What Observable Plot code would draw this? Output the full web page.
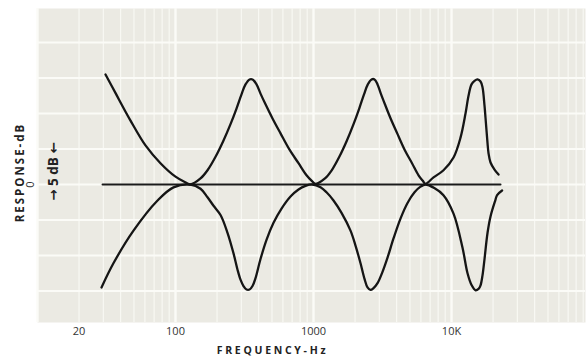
<!DOCTYPE html>
<html>
<head>
<meta charset="utf-8">
<script src="https://cdn.jsdelivr.net/npm/d3@7"></script>
<script src="https://cdn.jsdelivr.net/npm/@observablehq/plot@0.6"></script>
<style>
  html, body { margin: 0; padding: 0; background: #ffffff; }
  #chart { width: 587px; height: 361px; }
</style>
</head>
<body>
<div id="chart"></div>
<script>
// ---- Data ----
const upperFreq = [31.1, 36.7, 47.2, 60.6, 77.8, 100, 118, 128,
  151.8, 170.6, 195.0, 222.8, 250.4, 276.7, 300.8, 321.6, 343.8, 361.4, 386.4, 413.0, 449.0, 504.6, 576.8, 670.1, 778.6, 889.8, 967.2, 1034,
  1211, 1355, 1538, 1746, 1950, 2144, 2322, 2475, 2633, 2767, 2910, 3074, 3292, 3620, 4042, 4571, 5173, 5768, 6174, 6480,
  7407, 8750, 10340, 11620, 12630, 13280, 13960, 14678, 15433, 16230, 16770, 17340, 17630, 18240, 18540, 19170, 20490, 21910];
const upperDb = [15.5, 12.9, 9.0, 5.5, 3.0, 1.1, 0.3, 0.0,
  0.85, 2.0, 3.9, 6.2, 8.5, 10.7, 12.7, 14.1, 14.8, 14.8, 14.1, 12.8, 11.3, 9.3, 7.2, 4.9, 3.0, 1.3, 0.55, 0.1,
  0.85, 2.0, 3.9, 6.2, 8.5, 10.7, 12.7, 14.1, 14.8, 14.8, 14.1, 12.8, 11.3, 9.3, 7.2, 4.9, 3.0, 1.3, 0.55, 0.1,
  1.0, 2.0, 3.8, 6.6, 10.0, 12.5, 14.1, 14.6, 14.8, 14.5, 13.7, 11.1, 9.4, 5.8, 4.4, 3.1, 2.1, 1.4];

const lowerFreq = [29.1, 35.5, 49.6, 74.1, 96.7, 128,
  151.8, 170.6, 188.6, 211.9, 238.1, 263.2, 281.4, 295.8, 311.0, 327.0, 343.8, 361.4, 380.0, 413.0, 456.5, 513.1, 586.5, 681.3, 778.6, 875.0, 983.5,
  1124, 1242, 1396, 1596, 1854, 2015, 2191, 2342, 2462, 2588, 2722, 2910, 3162, 3438, 3799, 4268, 4800, 5394, 5963, 6480,
  7500, 8742, 10340, 12015, 13060, 14000, 14940, 15700, 16230, 16770, 17340, 18240, 19170, 20710, 21400, 23250];
const lowerDb = [-14.5, -11.1, -6.5, -2.25, -0.4, 0,
  -0.6, -1.8, -3.0, -4.3, -6.8, -9.7, -12.0, -13.4, -14.3, -14.8, -14.8, -14.3, -13.2, -10.5, -7.8, -5.4, -3.4, -1.7, -0.7, -0.2, 0,
  -0.4, -1.1, -2.25, -4.0, -6.5, -8.6, -11.1, -13.3, -14.5, -14.85, -14.6, -13.9, -12.3, -10.3, -7.6, -4.8, -2.6, -1.1, -0.3, 0,
  -0.5, -1.5, -4.1, -8.9, -12.5, -14.2, -14.9, -14.7, -14.2, -12.8, -10.5, -6.8, -4.5, -2.3, -1.5, -0.85];

const flatFreq = [29.6, 22650];
const flatDb = [0, 0];

const tickValues = [20, 100, 1000, 10000];
const tickLabels = ["20", "100", "1000", "10K"];

// graph-paper grid
const gridDb = [-15, -10, -5, 0, 5, 10, 15, 20];
const gridDecades = [10, 100, 1000, 10000];
const gridMinor = [20,30,40,50,60,70,80,90, 200,300,400,500,600,700,800,900, 2000,3000,4000,5000,6000,7000,8000,9000, 20000,30000,40000,50000,60000,70000,80000,90000];

const upper = upperFreq.map((f, i) => ({f, db: upperDb[i]}));
const lower = lowerFreq.map((f, i) => ({f, db: lowerDb[i]}));
const flat = flatFreq.map((f, i) => ({f, db: flatDb[i]}));
const ticks = tickValues.map((v, i) => ({v, label: tickLabels[i]}));

const font = "'Open Sans', 'DejaVu Sans', sans-serif";

const svg = Plot.plot({
  width: 587,
  height: 361,
  marginLeft: 37,
  marginRight: 2,
  marginTop: 8,
  marginBottom: 39,
  style: {fontFamily: font, background: "#ffffff", color: "#222"},
  x: {type: "log", domain: [10, 93500], axis: null},
  y: {domain: [-19.44, 24.79], axis: null},
  marks: [
    Plot.frame({fill: "#ebeae3", stroke: null}),
    Plot.ruleX(gridMinor, {stroke: "#f8f8f3", strokeWidth: 1.2}),
    Plot.ruleX(gridDecades, {stroke: "#fbfbf7", strokeWidth: 2.4}),
    Plot.ruleY(gridDb, {stroke: "#fbfbf7", strokeWidth: 2.2}),
    Plot.line(flat, {x: "f", y: "db", stroke: "#1a1a1a", strokeWidth: 2}),
    Plot.line(upper, {x: "f", y: "db", curve: "catmull-rom", stroke: "#151515", strokeWidth: 2.3}),
    Plot.line(lower, {x: "f", y: "db", curve: "catmull-rom", stroke: "#151515", strokeWidth: 2.3}),
    Plot.text(ticks, {x: "v", text: "label", frameAnchor: "bottom", dy: 12, fontSize: 11, fill: "#333"}),
    Plot.text(["FREQUENCY-Hz"], {frameAnchor: "bottom", dx: -39, dy: 31, fontSize: 10.5, fontWeight: "bold", fill: "#222"}),
    Plot.text(["RESPONSE-dB"], {frameAnchor: "left", textAnchor: "middle", dx: -17, dy: 7, rotate: -90, fontSize: 11.5, fontWeight: "bold", fill: "#222"}),
    Plot.text([0], {y: d => d, text: ["0"], frameAnchor: "left", textAnchor: "middle", dx: -7, rotate: -90, fontSize: 11, fill: "#333"}),
    Plot.text(["\u2192 5 dB \u2190"], {frameAnchor: "left", textAnchor: "middle", dx: 16, dy: 6, rotate: -90, fontSize: 13.5, fontWeight: "bold", fill: "#222"})
  ]
});

d3.select(svg).selectAll("text").each(function() {
  const t = this.textContent;
  if (t === "FREQUENCY-Hz") this.setAttribute("letter-spacing", "2.7");
  if (t === "RESPONSE-dB") this.setAttribute("letter-spacing", "2");
});

document.getElementById("chart").appendChild(svg);
</script>
</body>
</html>
